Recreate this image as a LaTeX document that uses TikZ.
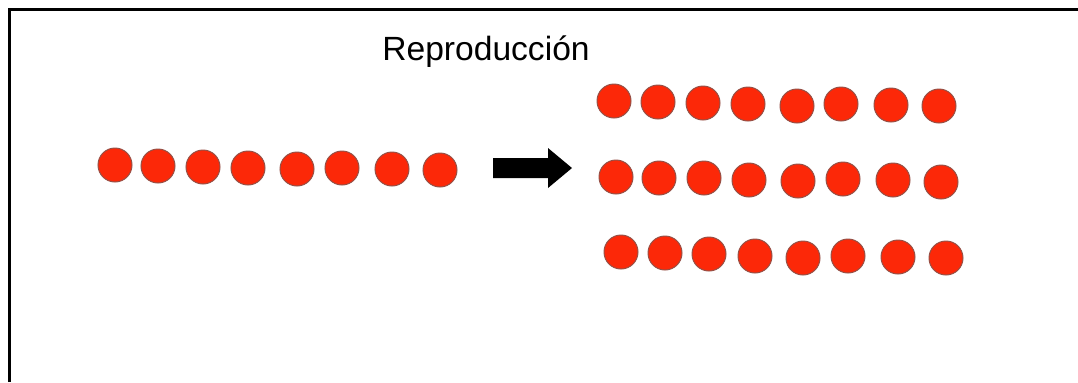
\documentclass[tikz,border=0pt]{standalone}
\usepackage{fontspec}
\setmainfont{Liberation Sans}
\usepackage{tikz}

\definecolor{dotred}{RGB}{252,40,8}
\definecolor{dotrim}{RGB}{150,80,70}

\begin{document}
\begin{tikzpicture}[x=0.5pt,y=-0.5pt,
  dot/.style={circle, fill=dotred, draw=dotrim, line width=0.5pt, inner sep=0pt, minimum size=17pt}]
\useasboundingbox (0,0) rectangle (1078,382);
\draw [line width=1.5pt] (9,382) -- (9,9) -- (1078,9);
\node (title) at (486,52) {\fontsize{16.8}{20}\selectfont Reproducción};
% parent row
\foreach \x/\y [count=\i] in {115/165,158/166,203/167,248/168,297/169,342/168,392/169,440/170}
  \node [dot] (p\i) at (\x,\y) {};
% arrow
\fill (493,158) -- (548,158) -- (548,148) -- (572,168) -- (548,188) -- (548,178) -- (493,178) -- cycle;
% offspring rows
\foreach \x/\y [count=\i] in {614/101,658/102,703/103,748/104,797/106,841/104,891/105,939/106}
  \node [dot] (a\i) at (\x,\y) {};
\foreach \x/\y [count=\i] in {616/177,659/178,704/178,749/180,798/181,843/179,893/180,941/182}
  \node [dot] (b\i) at (\x,\y) {};
\foreach \x/\y [count=\i] in {621/252,665/253,709/254,755/256,803/258,848/256,898/257,946/258}
  \node [dot] (c\i) at (\x,\y) {};
\end{tikzpicture}
\end{document}
